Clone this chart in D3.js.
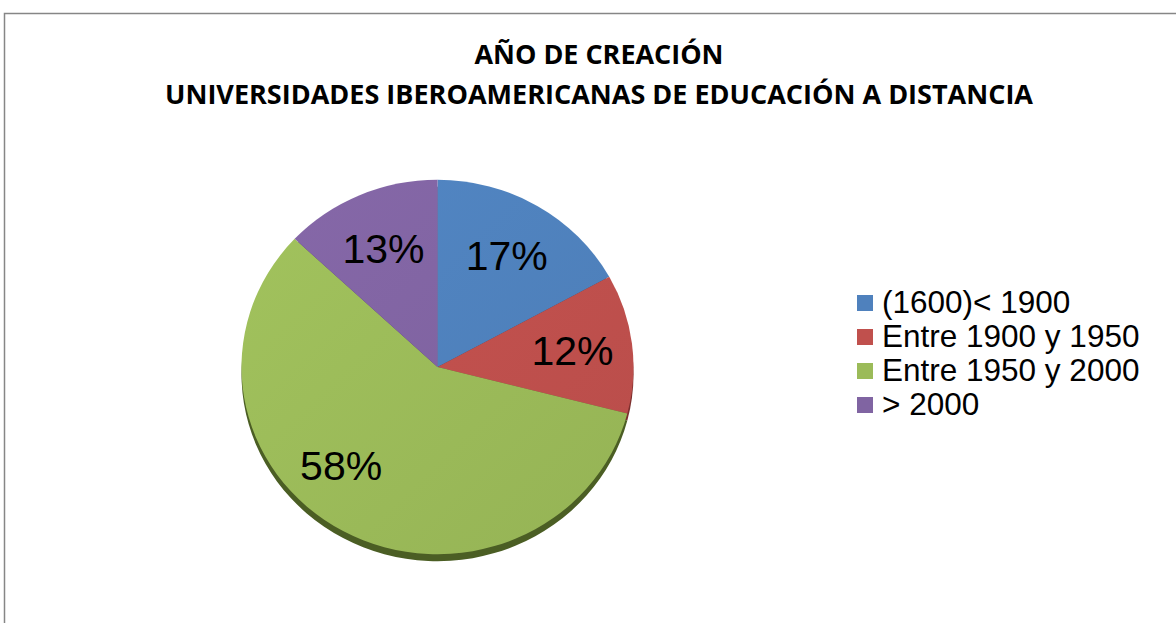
<!DOCTYPE html>
<html>
<head>
<meta charset="utf-8">
<script src="https://cdn.jsdelivr.net/npm/d3@7"></script>
<style>
  html, body { margin: 0; padding: 0; background: #fff; }
  svg { display: block; }
</style>
</head>
<body>
<svg id="chart" width="1176" height="623"></svg>
<script>
const titleLines = ["AÑO DE CREACIÓN", "UNIVERSIDADES IBEROAMERICANAS DE EDUCACIÓN A DISTANCIA"];
const categories = ["(1600)< 1900", "Entre 1900 y 1950", "Entre 1950 y 2000", "> 2000"];
const values = [17, 12, 58, 13];
const labels = ["17%", "12%", "58%", "13%"];
const colors = ["#4F81BD", "#C0504D", "#9BBB59", "#8064A2"];
const sideColors = ["#2c4d74", "#7a2e2c", "#4b5e24", "#4d3a66"];

const svg = d3.select("#chart");

// frame
svg.append("rect").attr("x", 4.5).attr("y", 13.5).attr("width", 1300).attr("height", 800)
  .attr("fill", "#fff").attr("stroke", "#868686").attr("stroke-width", 1.5);

// title
const titleWidths = [249, 868];
const titleY = [64, 104];
titleLines.forEach((t, i) => {
  svg.append("text")
    .attr("x", 599).attr("y", titleY[i])
    .attr("text-anchor", "middle")
    .attr("font-family", "'Open Sans', 'Liberation Sans', sans-serif")
    .attr("font-weight", "bold")
    .attr("font-size", 26.5)
    .attr("textLength", titleWidths[i])
    .attr("lengthAdjust", "spacingAndGlyphs")
    .attr("fill", "#000")
    .text(t);
});

// gradients
const defs = svg.append("defs");
colors.forEach((c, i) => {
  const g = defs.append("linearGradient").attr("id", "g" + i)
    .attr("gradientUnits", "userSpaceOnUse")
    .attr("x1", -196).attr("y1", -196).attr("x2", 196).attr("y2", 196);
  g.append("stop").attr("offset", 0).attr("stop-color", d3.color(c).brighter(0.12));
  g.append("stop").attr("offset", 1).attr("stop-color", d3.color(c).darker(0.12));
});

// pie
const cx = 437.5, cy = 367, R = 196, sy = 0.955;
const pieData = d3.pie().sort(null).value(d => d)(values);
const arc = d3.arc().innerRadius(0).outerRadius(R);

const sideG = svg.append("g").attr("transform", `translate(${cx},${cy + 7}) scale(1,${sy})`);
sideG.selectAll("path").data(pieData).join("path")
  .attr("d", arc).attr("fill", (d, i) => sideColors[i]);

const faceG = svg.append("g").attr("transform", `translate(${cx},${cy}) scale(1,${sy})`);
faceG.selectAll("path").data(pieData).join("path")
  .attr("d", arc).attr("fill", (d, i) => `url(#g${i})`);

// label placement: the large slice's label sits toward its left part (as in the reference)
const labelShift = d => (d.endAngle - d.startAngle > Math.PI) ? 0.25 : 0;
const labG = svg.append("g").attr("transform", `translate(${cx},${cy})`);
labG.selectAll("text").data(pieData).join("text")
  .attr("transform", d => {
    const a = (d.startAngle + d.endAngle) / 2 + labelShift(d);
    const r = 136 + (labelShift(d) ? 5 : 0);
    return `translate(${r * Math.sin(a)},${-r * Math.cos(a) * sy})`;
  })
  .attr("text-anchor", "middle")
  .attr("dy", "0.36em")
  .attr("font-family", "'Liberation Sans', Arial, sans-serif")
  .attr("font-size", 41)
  .attr("fill", "#000")
  .text((d, i) => labels[i]);

// legend
const leg = svg.append("g").attr("transform", "translate(857,295)");
const rowH = 34;
categories.forEach((c, i) => {
  const g = leg.append("g").attr("transform", `translate(0,${i * rowH})`);
  g.append("rect").attr("width", 16).attr("height", 16).attr("fill", colors[i]);
  g.append("text").attr("x", 25).attr("y", 18)
    .attr("font-family", "'Liberation Sans', Arial, sans-serif")
    .attr("font-size", 31.5).attr("fill", "#000").text(c);
});
</script>
</body>
</html>
